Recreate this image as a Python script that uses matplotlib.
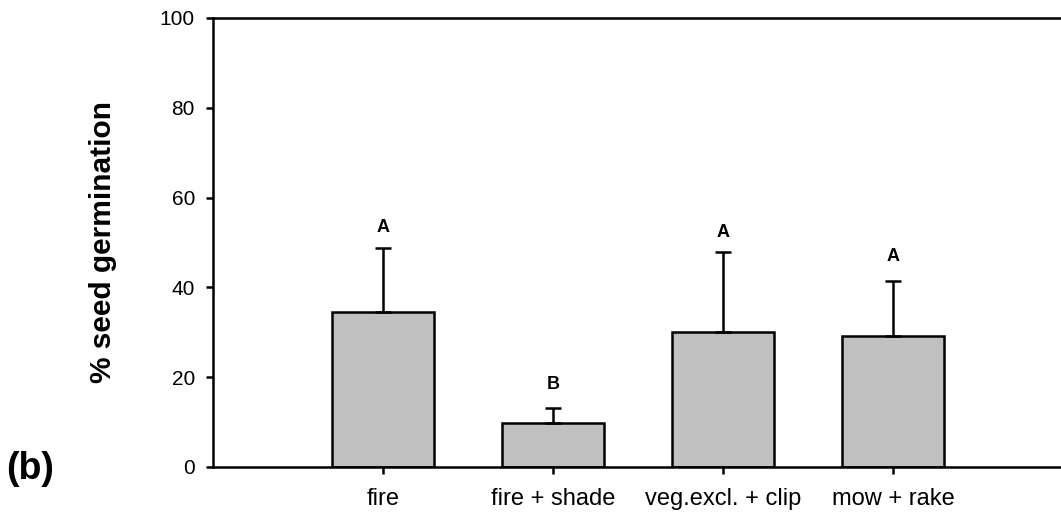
import matplotlib
matplotlib.use("Agg")
import matplotlib.pyplot as plt

categories = ["fire", "fire + shade", "veg.excl. + clip", "mow + rake"]
means = [34.6, 9.7, 30.1, 29.2]
errors = [14.2, 3.4, 17.8, 12.2]
letters = ["A", "B", "A", "A"]
letter_y = [53.4, 18.3, 52.3, 46.8]
yticks = [0, 20, 40, 60, 80, 100]

plt.rcParams['font.family'] = ['Liberation Sans', 'DejaVu Sans']

fig = plt.figure(figsize=(10.61, 5.23), dpi=100)
ax = fig.add_axes([0.2008, 0.1071, 0.7992 + 0.002, 0.8585])

x = [1, 2, 3, 4]
lw = 1.8
ax.bar(x, means, width=0.6, color="#c0c0c0", edgecolor="black", linewidth=lw, zorder=2)
ax.errorbar(x, means, yerr=[[0]*4, errors], fmt="none", ecolor="black",
            elinewidth=lw, capsize=5.5, capthick=lw, zorder=3)
for xi, lab, ly in zip(x, letters, letter_y):
    ax.text(xi, ly, lab, ha="center", va="center", fontsize=13, fontweight="bold")

ax.set_xlim(0, 5)
ax.set_ylim(0, 100)
ax.set_xticks(x)
ax.set_xticklabels(categories, fontsize=17)
ax.set_yticks(yticks)
ax.set_yticklabels([str(v) for v in yticks], fontsize=15)
ax.tick_params(direction="out", length=5, width=lw, pad=8)
ax.tick_params(axis="x", pad=10)
for s in ["left", "bottom", "top"]:
    ax.spines[s].set_linewidth(lw)
ax.spines["right"].set_visible(False)

ax.set_ylabel("% seed germination", fontsize=21.5, fontweight="bold", labelpad=31)
fig.text(0.006, 1 - 469 / 523, "(b)", fontsize=27, fontweight="bold", ha="left", va="center")

fig.savefig("out.png", dpi=100)
